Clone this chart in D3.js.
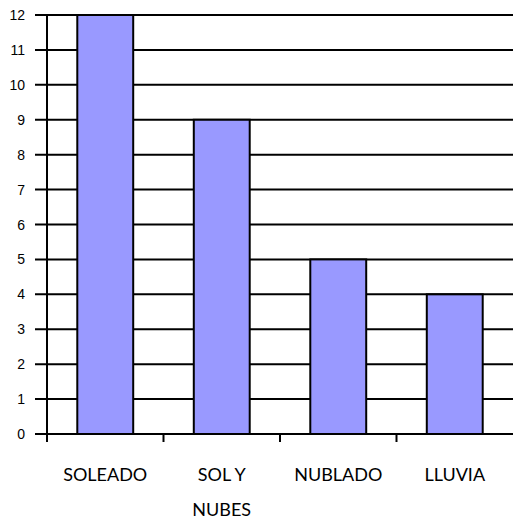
<!DOCTYPE html>
<html>
<head>
<meta charset="utf-8">
<title>Tiempo</title>
<script src="https://cdn.jsdelivr.net/npm/d3@7"></script>
<style>
  body { margin: 0; background: #fff; }
  .ylab { font-family: "Liberation Sans", Arial, sans-serif; font-size: 14px; }
  .xlab { font-family: Lato, "Open Sans", sans-serif; font-size: 18px; }
</style>
</head>
<body>
<svg id="chart" width="513" height="521"></svg>
<script>
var categories = ["SOLEADO", "SOL Y NUBES", "NUBLADO", "LLUVIA"];
var values = [12, 9, 5, 4];
var xLabels = [["SOLEADO"], ["SOL Y", "NUBES"], ["NUBLADO"], ["LLUVIA"]];
var yTicks = d3.range(0, 13);

var svg = d3.select("#chart");
var plotL = 47, plotR = 513, plotT = 15, plotB = 434;

var x = d3.scaleBand().domain(categories).range([plotL, plotR])
  .paddingInner(0.52).paddingOuter(0.26);
var y = d3.scaleLinear().domain([0, 12]).range([plotB, plotT]);

// gridlines + y ticks
svg.append("g").selectAll("line")
  .data(yTicks).enter().append("line")
  .attr("x1", plotL - 12).attr("x2", plotR)
  .attr("y1", function(d) { return y(d); })
  .attr("y2", function(d) { return y(d); })
  .attr("stroke", "#000").attr("stroke-width", 2);

svg.append("g").selectAll("text")
  .data(yTicks).enter().append("text")
  .attr("class", "ylab")
  .attr("x", 25).attr("y", function(d) { return y(d); })
  .attr("dy", "0.36em").attr("text-anchor", "end")
  .text(function(d) { return d; });

// y axis line
svg.append("line")
  .attr("x1", plotL).attr("x2", plotL).attr("y1", plotT).attr("y2", plotB)
  .attr("stroke", "#000").attr("stroke-width", 2);

// category ticks at band boundaries
svg.append("g").selectAll("line")
  .data(d3.range(categories.length)).enter().append("line")
  .attr("x1", function(i) { return plotL + i * x.step(); })
  .attr("x2", function(i) { return plotL + i * x.step(); })
  .attr("y1", plotB).attr("y2", plotB + 8)
  .attr("stroke", "#000").attr("stroke-width", 2);

// bars
svg.append("g").selectAll("rect")
  .data(values).enter().append("rect")
  .attr("x", function(d, i) { return x(categories[i]); })
  .attr("y", function(d) { return y(d); })
  .attr("width", x.bandwidth())
  .attr("height", function(d) { return y(0) - y(d); })
  .attr("fill", "#9999ff")
  .attr("stroke", "#000").attr("stroke-width", 2);

// category labels
var lab = svg.append("g").selectAll("text")
  .data(xLabels).enter().append("text")
  .attr("class", "xlab")
  .attr("text-anchor", "middle")
  .attr("x", function(d, i) { return x(categories[i]) + x.bandwidth() / 2; })
  .attr("y", 481);
lab.selectAll("tspan")
  .data(function(d) { return d; }).enter().append("tspan")
  .attr("x", function() { return d3.select(this.parentNode).attr("x"); })
  .attr("dy", function(d, j) { return j === 0 ? 0 : 35; })
  .text(function(d) { return d; });
</script>
</body>
</html>
